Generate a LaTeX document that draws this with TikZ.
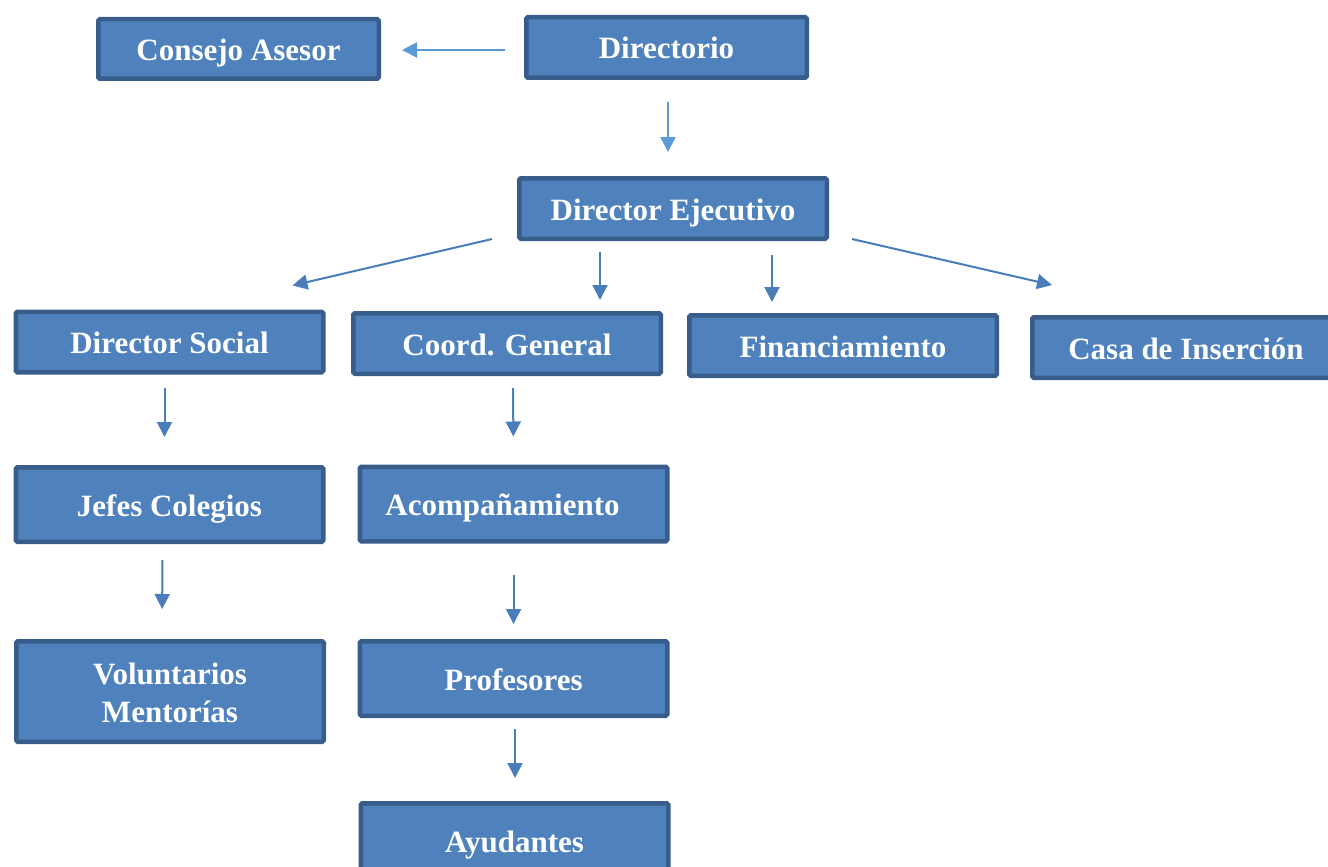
\documentclass[tikz,border=0pt]{standalone}
\usepackage{fontspec}
\setmainfont{Liberation Serif}
\usetikzlibrary{arrows.meta,calc}
\definecolor{boxfill}{HTML}{4F81BD}
\definecolor{boxline}{HTML}{385D8A}
\definecolor{arrlight}{HTML}{5B9BD5}
\definecolor{arrdark}{HTML}{4A7EBB}
\tikzset{
% Boxes of the chart and the arrows between them
org box/.style={rectangle,draw=boxline,fill=boxfill,line width=4.5pt,rounded corners=1.5pt,
  text=white,font=\fontsize{31}{38}\selectfont\bfseries,align=center,
  text height=26pt,text depth=3pt,
  minimum width=307.5pt,minimum height=60.5pt,inner sep=0pt},
org arrow/.style={draw=arrdark,line width=2pt,-{Triangle[length=15pt,width=15pt]}},
light arrow/.style={org arrow,draw=arrlight}
}
\begin{document}
\begin{tikzpicture}[x=1pt,y=-1pt]
      \useasboundingbox (0,0) rectangle (1328,867);
      \clip (0,0) rectangle (1328,867);
      % Top level
      \node[org box,minimum width=280.5pt,minimum height=59.5pt] (consejo) at (238.5,49) {Consejo Asesor};
      \node[org box,minimum width=280.5pt] (directorio) at (666.5,47.5) {Directorio};
      \node[org box] (ejecutivo) at (673,208.5) {Director Ejecutivo};
      % Second level
      \node[org box] (social) at (169.5,342) {Director Social};
      \node[org box] (coord) at (507,343.5) {Coord. General};
      \node[org box] (financ) at (843,345.5) {Financiamiento};
      \node[org box] (casa) at (1186,347.5) {Casa de Inserción};
      % Columns below
      \node[org box,minimum height=74.5pt] (jefes) at (169.5,504.5) {Jefes Colegios};
      \node[org box,minimum height=74.5pt] (acomp) at (513.5,504) {\hspace*{-22pt}Acompañamiento};
      \node[org box,minimum height=100.5pt,text height=64pt,text depth=3pt] (volunt) at (170,691.5) {Voluntarios\\Mentorías};
      \node[org box,minimum height=74.5pt] (profes) at (513.5,678.5) {Profesores};
      \node[org box,minimum height=74.5pt] (ayud) at (514.5,840.5) {Ayudantes};
      % Arrows from the board
      \draw[light arrow,shorten <=19pt,shorten >=21pt] ($(directorio.west)+(0,2.5)$) -- ($(consejo.east)+(0,1)$);
      \draw[light arrow,shorten <=22pt,shorten >=24pt] ($(directorio.south)+(1.5,0)$) -- ($(directorio.south)!1!(directorio.south |- ejecutivo.north)+(1.5,0)$);
      % Arrows from the executive director
      \draw[org arrow] ($(ejecutivo.south west)+(-25,-2)$) -- ($(social.north)+(123,-24)$);
      \draw[org arrow,shorten <=11pt,shorten >=11pt] (ejecutivo.south -| coord.north east) ++(-63,0) coordinate (c1) -- (c1 |- coord.north);
      \draw[org arrow,shorten <=14pt,shorten >=11pt] (ejecutivo.south -| financ.north west) ++(85,0) coordinate (f1) -- (f1 |- financ.north);
      \draw[org arrow] ($(ejecutivo.south east)+(23,-2)$) -- ($(casa.north)+(-134,-30)$);
      % Arrows down the columns
      \draw[org arrow,shorten <=13pt,shorten >=28pt] ($(social.south)+(-5,0)$) -- ($(jefes.north)+(-5,0)$);
      \draw[org arrow,shorten <=12pt,shorten >=28pt] ($(coord.south)+(6,0)$) -- ($(acomp.north)$);
      \draw[org arrow,shorten <=16pt,shorten >=30pt] ($(jefes.south)+(-7,0)$) -- ($(volunt.north)+(-8,0)$);
      \draw[org arrow,shorten <=31pt,shorten >=15pt] (acomp.south) -- (profes.north);
      \draw[org arrow,shorten <=11pt,shorten >=23pt] ($(profes.south)+(1.5,0)$) -- ($(ayud.north)+(0.5,0)$);
\end{tikzpicture}
\end{document}
